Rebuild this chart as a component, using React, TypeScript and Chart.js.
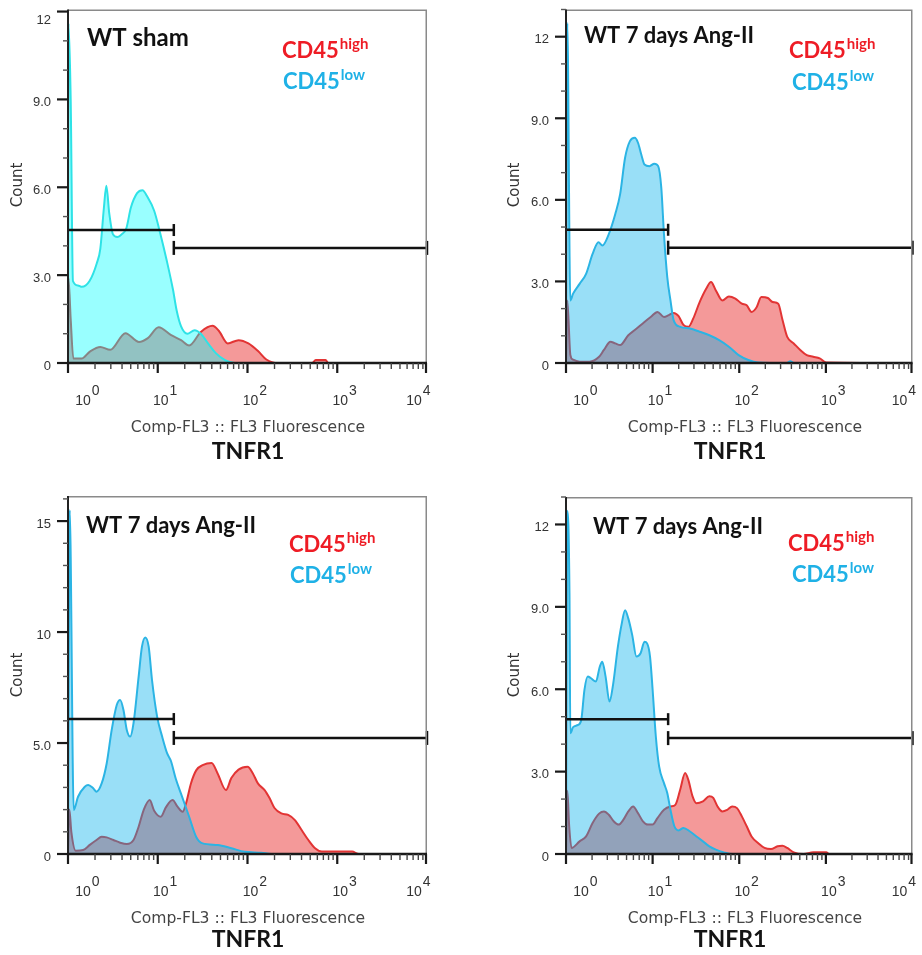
import React, { useEffect, useRef } from "react";
import { Chart, registerables } from "chart.js";

Chart.register(...registerables);

// ---------------- DATA ----------------
// x values are log10 of "Comp-FL3 :: FL3 Fluorescence" (TNFR1), y values are counts.

// Panel 1: WT sham
const shamLowLog = [0, 0.005, 0.03, 0.055, 0.11, 0.154, 0.24, 0.32, 0.36, 0.4, 0.427, 0.46, 0.5, 0.55, 0.6, 0.65, 0.7, 0.77, 0.83, 0.88, 0.96, 1.03, 1.1, 1.17, 1.21, 1.26, 1.33, 1.41, 1.48, 1.56, 1.65, 1.75, 1.86, 4.0];
const shamLowCount = [0, 11.6, 9.0, 2.8, 2.65, 2.6, 2.8, 3.4, 3.9, 5.3, 6.05, 5.1, 4.4, 4.3, 4.4, 4.6, 5.3, 5.8, 5.9, 5.7, 5.2, 4.4, 3.5, 2.5, 1.8, 1.25, 1.0, 1.12, 1.0, 0.67, 0.33, 0.1, 0, 0];
const shamHighLog = [0, 0.005, 0.03, 0.06, 0.15, 0.247, 0.36, 0.47, 0.64, 0.79, 0.89, 1.01, 1.15, 1.26, 1.35, 1.48, 1.61, 1.68, 1.78, 1.9, 2.01, 2.12, 2.21, 2.34, 2.72, 2.76, 2.87, 2.9, 4.0];
const shamHighCount = [0, 2.9, 1.5, 0.15, 0.15, 0.4, 0.55, 0.45, 1.02, 0.72, 0.85, 1.22, 0.95, 0.78, 0.6, 1.06, 1.27, 1.1, 0.67, 0.78, 0.67, 0.4, 0.12, 0, 0, 0.1, 0.1, 0, 0];

// Panel 2: WT 7 days Ang-II (top right)
const ang1LowLog = [0, 0.015, 0.05, 0.082, 0.157, 0.232, 0.307, 0.375, 0.42, 0.494, 0.569, 0.625, 0.682, 0.738, 0.794, 0.831, 0.869, 0.906, 0.963, 1.019, 1.064, 1.1, 1.131, 1.169, 1.206, 1.243, 1.318, 1.431, 1.543, 1.655, 1.768, 1.88, 1.993, 2.105, 2.217, 2.55, 2.59, 2.63, 4.0];
const ang1LowCount = [0, 12.5, 2.3, 2.55, 2.91, 3.28, 4.01, 4.44, 4.32, 4.74, 5.48, 6.21, 7.55, 8.16, 8.28, 8.1, 7.67, 7.3, 7.24, 7.33, 7.24, 6.45, 4.74, 3.16, 2.3, 1.57, 1.33, 1.27, 1.15, 1.02, 0.84, 0.6, 0.29, 0.11, 0.02, 0, 0.06, 0, 0];
const ang1HighLog = [0, 0.015, 0.05, 0.082, 0.157, 0.27, 0.382, 0.438, 0.513, 0.569, 0.625, 0.719, 0.794, 0.906, 0.981, 1.056, 1.131, 1.187, 1.243, 1.3, 1.356, 1.412, 1.468, 1.543, 1.618, 1.674, 1.73, 1.805, 1.88, 1.955, 2.03, 2.086, 2.142, 2.199, 2.255, 2.33, 2.386, 2.45, 2.498, 2.554, 2.629, 2.704, 2.779, 2.854, 2.929, 3.004, 4.0];
const ang1HighCount = [0, 2.3, 0.3, 0.12, 0.05, 0.05, 0.23, 0.48, 0.78, 0.72, 0.66, 1.02, 1.21, 1.51, 1.7, 1.88, 1.69, 1.76, 1.84, 1.72, 1.4, 1.33, 1.63, 2.24, 2.73, 2.98, 2.67, 2.3, 2.45, 2.37, 2.18, 2.12, 1.88, 2.04, 2.43, 2.39, 2.24, 2.18, 1.6, 0.96, 0.72, 0.48, 0.29, 0.23, 0.17, 0.02, 0];

// Panel 3: WT 7 days Ang-II (bottom left)
const ang2LowLog = [0, 0.019, 0.064, 0.112, 0.187, 0.225, 0.281, 0.318, 0.375, 0.431, 0.487, 0.543, 0.581, 0.618, 0.655, 0.693, 0.73, 0.787, 0.824, 0.861, 0.899, 0.936, 0.993, 1.049, 1.105, 1.146, 1.2, 1.258, 1.35, 1.427, 1.5, 1.67, 1.82, 1.97, 2.154, 2.266, 4.0];
const ang2LowCount = [0, 15.5, 1.98, 2.58, 3.03, 3.11, 2.96, 2.81, 3.18, 4.08, 5.59, 6.71, 6.94, 6.49, 5.59, 5.29, 5.89, 7.99, 9.34, 9.76, 9.34, 7.84, 6.19, 5.29, 4.53, 4.2, 3.4, 2.73, 1.68, 0.78, 0.48, 0.41, 0.26, 0.1, 0.06, 0, 0];
const ang2HighLog = [0, 0.015, 0.037, 0.086, 0.169, 0.243, 0.318, 0.375, 0.431, 0.506, 0.581, 0.655, 0.73, 0.787, 0.843, 0.91, 0.96, 1.034, 1.09, 1.165, 1.22, 1.277, 1.315, 1.37, 1.43, 1.5, 1.6, 1.667, 1.76, 1.82, 1.9, 2.0, 2.06, 2.116, 2.191, 2.247, 2.303, 2.378, 2.453, 2.528, 2.603, 2.678, 2.753, 2.828, 2.94, 3.165, 3.24, 4.0];
const ang2HighCount = [0, 2.0, 1.0, 0.15, 0.18, 0.41, 0.63, 0.78, 0.75, 0.63, 0.51, 0.45, 0.63, 1.23, 1.98, 2.43, 1.95, 1.68, 2.1, 2.43, 2.13, 1.9, 2.28, 3.18, 3.78, 4.0, 4.1, 3.63, 2.88, 3.42, 3.8, 3.93, 3.63, 3.18, 2.88, 2.51, 2.06, 1.83, 1.76, 1.53, 1.08, 0.63, 0.26, 0.11, 0.11, 0.11, 0, 0];

// Panel 4: WT 7 days Ang-II (bottom right)
const ang3LowLog = [0, 0.015, 0.04, 0.05, 0.082, 0.139, 0.176, 0.213, 0.251, 0.288, 0.345, 0.39, 0.419, 0.457, 0.502, 0.543, 0.599, 0.644, 0.682, 0.719, 0.764, 0.813, 0.861, 0.906, 0.936, 0.97, 1.0, 1.037, 1.075, 1.131, 1.169, 1.206, 1.251, 1.3, 1.356, 1.431, 1.506, 1.581, 1.655, 1.73, 1.824, 1.918, 4.0];
const ang3LowCount = [0, 12.5, 9.5, 4.4, 4.62, 4.7, 4.88, 5.98, 6.46, 6.4, 6.28, 6.82, 7.0, 6.46, 5.55, 6.16, 7.55, 8.4, 8.88, 8.58, 7.98, 7.19, 7.31, 7.73, 7.67, 7.19, 5.98, 4.28, 3.19, 2.58, 2.22, 1.61, 1.01, 0.86, 0.95, 0.82, 0.64, 0.46, 0.28, 0.16, 0.06, 0, 0];
const ang3HighLog = [0, 0.015, 0.037, 0.064, 0.157, 0.232, 0.307, 0.382, 0.438, 0.494, 0.551, 0.607, 0.663, 0.719, 0.775, 0.831, 0.888, 0.944, 1.0, 1.056, 1.131, 1.206, 1.262, 1.318, 1.375, 1.412, 1.461, 1.506, 1.581, 1.655, 1.7, 1.749, 1.805, 1.861, 1.918, 1.974, 2.03, 2.086, 2.142, 2.217, 2.292, 2.367, 2.442, 2.498, 2.554, 2.629, 2.742, 2.854, 3.004, 3.041, 4.0];
const ang3HighCount = [0, 2.3, 1.0, 0.22, 0.46, 0.64, 1.13, 1.47, 1.55, 1.43, 1.19, 1.07, 1.25, 1.55, 1.73, 1.49, 1.19, 1.07, 1.07, 1.31, 1.61, 1.73, 1.79, 2.34, 2.95, 2.7, 2.1, 1.85, 1.92, 2.1, 2.04, 1.73, 1.55, 1.61, 1.73, 1.67, 1.37, 1.01, 0.64, 0.4, 0.22, 0.18, 0.28, 0.3, 0.22, 0.06, 0, 0.06, 0.06, 0, 0];

// Gates (bracket markers): split point, upper (left) gate level, lower (right) gate level
const gateSplit = [15.1, 15.1, 15.1, 15.1];
const gateUpperY = [4.54, 4.9, 6.08, 4.91];
const gateLowerY = [3.93, 4.24, 5.23, 4.22];

// Axes
const yMaxes = [12.07, 13.0, 16.13, 13.0];
const yMajorTicks = [[0, 3, 6, 9, 12], [0, 3, 6, 9, 12], [0, 5, 10, 15], [0, 3, 6, 9, 12]];
const yMajorLabels = [["0", "3.0", "6.0", "9.0", "12"], ["0", "3.0", "6.0", "9.0", "12"], ["0", "5.0", "10", "15"], ["0", "3.0", "6.0", "9.0", "12"]];
const xDecades = [0, 1, 2, 3, 4];

// Text
const panelTitles = ["WT sham", "WT 7 days Ang-II", "WT 7 days Ang-II", "WT 7 days Ang-II"];
const xAxisTitle = "Comp-FL3 :: FL3 Fluorescence";
const markerName = "TNFR1";
const yAxisTitle = "Count";
const highLabel = ["CD45", "high"];
const lowLabel = ["CD45", "low"];

const seriesLow = [
  [shamLowLog, shamLowCount],
  [ang1LowLog, ang1LowCount],
  [ang2LowLog, ang2LowCount],
  [ang3LowLog, ang3LowCount],
];
const seriesHigh = [
  [shamHighLog, shamHighCount],
  [ang1HighLog, ang1HighCount],
  [ang2HighLog, ang2HighCount],
  [ang3HighLog, ang3HighCount],
];

// ---------------- LAYOUT ----------------
const panelsLayout = [
  {
    left: 0, top: 0, width: 461, height: 478,
    pad: { left: 68, top: 7, right: 34, bottom: 115 },
    titleSize: 24, titleX: 87, titleY: 46,
    highX: 282, highY: 58, lowX: 283, lowY: 89,
    countX: 18, countY: 185,
    compX: 248, compY: 432, tnfX: 248, tnfY: 459,
    xLabY: 405,
    cyanLine: "#2ee2e6", cyanFill: "rgba(0,255,255,0.4)",
  },
  {
    left: 461, top: 0, width: 461, height: 478,
    pad: { left: 105, top: 8, right: 0, bottom: 115 },
    titleSize: 22, titleX: 123, titleY: 43,
    highX: 328, highY: 58, lowX: 331, lowY: 90,
    countX: 54, countY: 185,
    compX: 284, compY: 432, tnfX: 269, tnfY: 459,
    xLabY: 405,
    cyanLine: "#2bb4e4", cyanFill: "rgba(0,176,236,0.4)",
  },
  {
    left: 0, top: 478, width: 461, height: 477,
    pad: { left: 68, top: 18, right: 34, bottom: 101 },
    titleSize: 22, titleX: 86, titleY: 55,
    highX: 289, highY: 74, lowX: 290, lowY: 105,
    countX: 18, countY: 197,
    compX: 248, compY: 445, tnfX: 248, tnfY: 469,
    xLabY: 418,
    cyanLine: "#2bb4e4", cyanFill: "rgba(0,176,236,0.4)",
  },
  {
    left: 461, top: 478, width: 461, height: 477,
    pad: { left: 105, top: 19, right: 0, bottom: 101 },
    titleSize: 22, titleX: 132, titleY: 56,
    highX: 327, highY: 73, lowX: 331, lowY: 104,
    countX: 54, countY: 197,
    compX: 284, compY: 445, tnfX: 269, tnfY: 469,
    xLabY: 418,
    cyanLine: "#2bb4e4", cyanFill: "rgba(0,176,236,0.4)",
  },
];

const RED_LINE = "#e23434";
const RED_FILL = "rgba(228,0,0,0.4)";
const GATE = "#111111";

const toPoints = (logs: number[], counts: number[]) =>
  logs.map((l, i) => ({ x: Math.pow(10, l), y: counts[i] }));

const decorPlugin = {
  id: "flowDecor",
  afterDraw(chart: any) {
    const cfg = chart.options.plugins.flowDecor;
    if (!cfg) return;
    const ctx: CanvasRenderingContext2D = chart.ctx;
    const a = chart.chartArea;
    const xs = chart.scales.x;
    const ys = chart.scales.y;
    ctx.save();

    // frame (top & right)
    ctx.strokeStyle = "#8a8a8a";
    ctx.lineWidth = 1.5;
    ctx.beginPath();
    ctx.moveTo(a.left, a.top + 0.75);
    ctx.lineTo(a.right - 0.75, a.top + 0.75);
    ctx.lineTo(a.right - 0.75, a.bottom);
    ctx.stroke();

    // left axis
    ctx.strokeStyle = "#222";
    ctx.lineWidth = 2;
    ctx.beginPath();
    ctx.moveTo(a.left, a.top);
    ctx.lineTo(a.left, a.bottom);
    ctx.stroke();

    // y ticks
    const maxInt = Math.floor(cfg.yMax + 1e-6);
    for (let v = 0; v <= maxInt; v++) {
      const y = ys.getPixelForValue(v);
      const major = cfg.yMajor.includes(v);
      ctx.lineWidth = major ? 2.2 : 1.4;
      ctx.strokeStyle = major ? "#1a1a1a" : "#555";
      ctx.beginPath();
      ctx.moveTo(a.left - (major ? 11 : 5), y);
      ctx.lineTo(a.left, y);
      ctx.stroke();
    }

    // y labels
    ctx.fillStyle = "#333";
    ctx.font = "13px 'Liberation Sans'";
    ctx.textAlign = "right";
    ctx.textBaseline = "middle";
    cfg.yMajor.forEach((v: number, i: number) => {
      const y = ys.getPixelForValue(v);
      ctx.fillText(cfg.yLabels[i], a.left - 17, Math.max(y + 3, a.top + 11));
    });

    // bottom axis
    ctx.strokeStyle = "#1a1a1a";
    ctx.lineWidth = 2.5;
    ctx.beginPath();
    ctx.moveTo(a.left - 1, a.bottom);
    ctx.lineTo(a.right, a.bottom);
    ctx.stroke();

    // x ticks
    for (let d = 0; d <= 4; d++) {
      for (let m = 1; m <= 9; m++) {
        if (d === 4 && m > 1) break;
        const v = m * Math.pow(10, d);
        let x = xs.getPixelForValue(v);
        if (x > a.right - 1) x = a.right - 1;
        const major = m === 1;
        ctx.lineWidth = major ? 2.2 : 1.4;
        ctx.strokeStyle = major ? "#1a1a1a" : "#444";
        ctx.beginPath();
        ctx.moveTo(x, a.bottom);
        ctx.lineTo(x, a.bottom + (major ? 10 : 6));
        ctx.stroke();
      }
    }

    // x labels 10^n
    ctx.fillStyle = "#333";
    ctx.font = "14px 'Liberation Sans'";
    ctx.textBaseline = "alphabetic";
    xDecades.forEach((d, i) => {
      const x = xs.getPixelForValue(Math.pow(10, d));
      const off = i === 0 ? 15 : i === xDecades.length - 1 ? -13 : 3;
      const cx = x + off;
      ctx.textAlign = "center";
      ctx.fillText("10", cx, cfg.xLabY);
      const w = ctx.measureText("10").width;
      ctx.textAlign = "left";
      ctx.fillText(String(d), cx + w / 2 + 1, cfg.xLabY - 10);
    });

    // x axis title
    ctx.fillStyle = "#444";
    ctx.font = "15.6px 'DejaVu Sans'";
    ctx.textAlign = "center";
    ctx.fillText(xAxisTitle, cfg.compX, cfg.compY);
    ctx.fillStyle = "#141414";
    ctx.font = "bold 23px Lato";
    ctx.fillText(markerName, cfg.tnfX, cfg.tnfY);

    // y axis title
    ctx.save();
    ctx.translate(cfg.countX, cfg.countY);
    ctx.rotate(-Math.PI / 2);
    ctx.fillStyle = "#333";
    ctx.font = "15px 'DejaVu Sans'";
    ctx.textAlign = "center";
    ctx.textBaseline = "middle";
    ctx.fillText(yAxisTitle, 0, 0);
    ctx.restore();

    // panel title
    ctx.textAlign = "left";
    ctx.textBaseline = "alphabetic";
    ctx.fillStyle = "#111";
    ctx.font = `bold ${cfg.titleSize}px Lato`;
    ctx.fillText(cfg.title, cfg.titleX, cfg.titleY);

    // CD45 labels
    const drawSup = (parts: string[], x: number, y: number, color: string) => {
      ctx.fillStyle = color;
      ctx.font = "bold 22px Lato";
      ctx.fillText(parts[0], x, y);
      const w = ctx.measureText(parts[0]).width;
      ctx.font = "bold 15px Lato";
      ctx.fillText(parts[1], x + w + 1, y - 9);
    };
    drawSup(highLabel, cfg.highX, cfg.highY, "#ee1c25");
    drawSup(lowLabel, cfg.lowX, cfg.lowY, "#1fb1e6");

    ctx.restore();
  },
};

function buildConfig(i: number): any {
  const L = panelsLayout[i];
  const [lowLog, lowCount] = seriesLow[i];
  const [highLog, highCount] = seriesHigh[i];
  const split = gateSplit[i];
  const gateCommon = {
    borderColor: GATE,
    borderWidth: 2.5,
    pointStyle: "line",
    pointRotation: 90,
    pointBorderColor: GATE,
    pointBackgroundColor: GATE,
    pointBorderWidth: 2.5,
    pointHoverRadius: 0,
    fill: false,
    tension: 0,
    clip: false,
    order: 0,
  };
  return {
    type: "line",
    data: {
      datasets: [
        {
          ...gateCommon,
          data: [{ x: 1, y: gateUpperY[i] }, { x: split, y: gateUpperY[i] }],
          pointRadius: [0, 6],
        },
        {
          ...gateCommon,
          data: [{ x: split, y: gateLowerY[i] }, { x: 10000, y: gateLowerY[i] }],
          pointRadius: [7, 7],
        },
        {
          label: "CD45low",
          data: toPoints(lowLog, lowCount),
          borderColor: L.cyanLine,
          backgroundColor: L.cyanFill,
          borderWidth: 2,
          fill: "origin",
          pointRadius: 0,
          cubicInterpolationMode: "monotone",
          order: 2,
        },
        {
          label: "CD45high",
          data: toPoints(highLog, highCount),
          borderColor: RED_LINE,
          backgroundColor: RED_FILL,
          borderWidth: 2,
          fill: "origin",
          pointRadius: 0,
          cubicInterpolationMode: "monotone",
          order: 3,
        },
      ],
    },
    options: {
      responsive: false,
      animation: false,
      devicePixelRatio: 1,
      layout: { padding: L.pad },
      events: [],
      scales: {
        x: { type: "logarithmic", min: 1, max: 10000, display: false },
        y: { type: "linear", min: 0, max: yMaxes[i], display: false },
      },
      plugins: {
        legend: { display: false },
        tooltip: { enabled: false },
        flowDecor: {
          ...L,
          yMax: yMaxes[i],
          yMajor: yMajorTicks[i],
          yLabels: yMajorLabels[i],
          title: panelTitles[i],
        },
      },
    },
    plugins: [decorPlugin],
  };
}

export default function App() {
  const refs = [useRef<HTMLCanvasElement>(null), useRef<HTMLCanvasElement>(null), useRef<HTMLCanvasElement>(null), useRef<HTMLCanvasElement>(null)];
  useEffect(() => {
    const charts: Chart[] = [];
    refs.forEach((r, i) => {
      if (r.current) charts.push(new Chart(r.current, buildConfig(i)));
    });
    return () => charts.forEach((c) => c.destroy());
  }, []);
  return (
    <div style={{ position: "absolute", left: 0, top: 0, width: 922, height: 955, background: "#fff", overflow: "hidden" }}>
      {panelsLayout.map((L, i) => (
        <canvas
          key={i}
          ref={refs[i]}
          width={L.width}
          height={L.height}
          style={{ position: "absolute", left: L.left, top: L.top, width: L.width, height: L.height }}
        />
      ))}
    </div>
  );
}
